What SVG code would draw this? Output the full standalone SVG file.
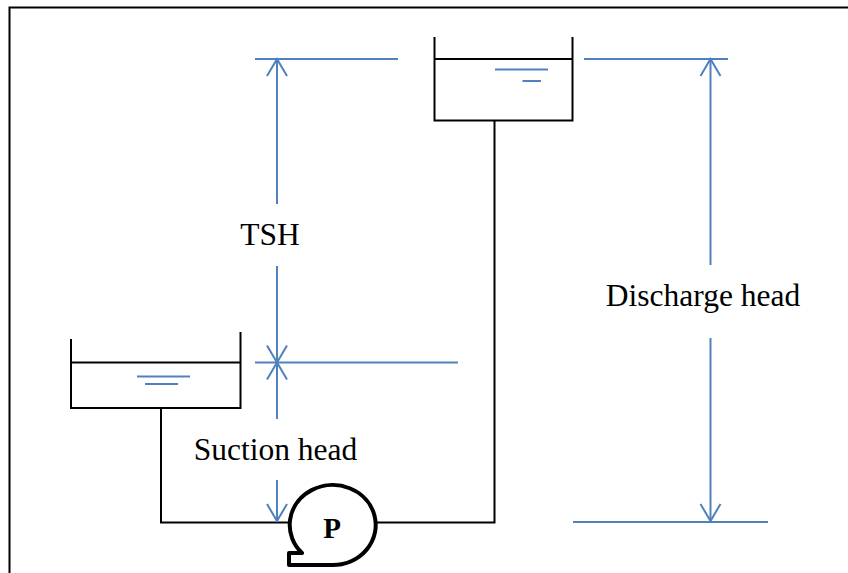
<svg xmlns="http://www.w3.org/2000/svg" width="848" height="573" viewBox="0 0 848 573">
<style>
.blk{fill:none;stroke:#000;stroke-width:2;}
.blu{fill:none;stroke:#4F81BD;stroke-width:2;}
.lbl{font-family:"Liberation Serif","Times New Roman",serif;font-size:31.5px;fill:#000;text-anchor:middle;}
</style>
<defs>
<marker id="arr" viewBox="-20 -12 24 24" markerWidth="24" markerHeight="24" refX="0" refY="0" orient="auto" markerUnits="userSpaceOnUse">
<path d="M -17 -10 L 0 0 L -17 10" fill="none" stroke="#4F81BD" stroke-width="2"/>
</marker>
</defs>
<rect x="0" y="0" width="848" height="573" fill="#fff"/>
<path class="blk" d="M 9.5 580 V 7.5 H 860"/>

<g id="upper-tank">
<path class="blk" d="M 434.5 37 V 120.5 H 572.5 V 37"/>
<line class="blk" x1="434.5" y1="59" x2="572.5" y2="59"/>
<line class="blu" x1="495" y1="69.5" x2="548" y2="69.5"/>
<line class="blu" x1="522.5" y1="81" x2="541" y2="81"/>
</g>

<g id="lower-tank">
<path class="blk" d="M 71 339 V 408 H 240.5 V 332"/>
<line class="blk" x1="71" y1="362.5" x2="240.5" y2="362.5"/>
<line class="blu" x1="137" y1="376.5" x2="190" y2="376.5"/>
<line class="blu" x1="145" y1="384" x2="178" y2="384"/>
</g>

<g id="pump">
<path d="M 332 565 A 43 40 0 1 0 302 553 L 289 553 L 289 565 Z" fill="#fff" stroke="#000" stroke-width="4" stroke-linejoin="round"/>
<text x="332" y="538" font-family="Liberation Serif,'Times New Roman',serif" font-size="29" font-weight="bold" text-anchor="middle">P</text>
</g>

<g id="pipes">
<path class="blk" d="M 161 408 V 522.5 H 289"/>
<path class="blk" d="M 494.5 120.5 V 522.5 H 375"/>
</g>

<g id="connectors">
<line class="blu" x1="255" y1="59" x2="398" y2="59"/>
<line class="blu" x1="584" y1="59" x2="728" y2="59"/>
<line class="blu" x1="255" y1="362.5" x2="458" y2="362.5"/>
<line class="blu" x1="573" y1="522" x2="768" y2="522"/>
<line class="blu" x1="277" y1="204" x2="277" y2="59" marker-end="url(#arr)"/>
<line class="blu" x1="277" y1="266" x2="277" y2="362.5" marker-end="url(#arr)"/>
<line class="blu" x1="277" y1="419" x2="277" y2="362.5" marker-end="url(#arr)"/>
<line class="blu" x1="277" y1="480" x2="277" y2="521" marker-end="url(#arr)"/>
<line class="blu" x1="710.5" y1="265" x2="710.5" y2="59" marker-end="url(#arr)"/>
<line class="blu" x1="710.5" y1="338" x2="710.5" y2="521" marker-end="url(#arr)"/>
</g>

<g id="labels">
<text class="lbl" x="270" y="245">TSH</text>
<text class="lbl" x="275.5" y="460">Suction head</text>
<text class="lbl" x="703" y="306">Discharge head</text>
</g>
</svg>
